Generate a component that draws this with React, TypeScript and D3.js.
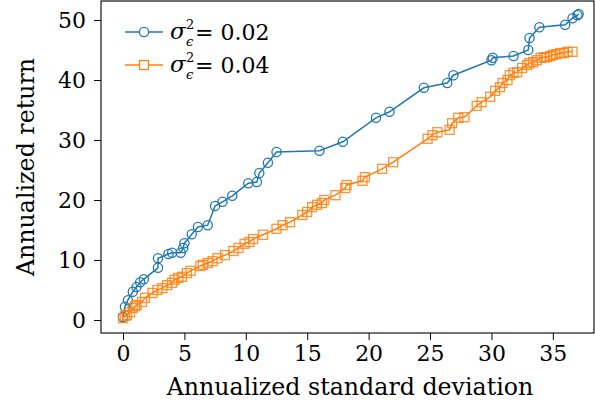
import React, { useEffect, useRef } from "react";
import * as d3 from "d3";

// sigma^2 = 0.02 series: [annualized std dev, annualized return]
const lowNoiseStd = [0.0, 0.16, 0.4, 0.8, 1.1, 1.4, 1.7, 2.85, 2.85, 3.7, 4.0, 4.7, 4.9, 5.0, 5.6, 6.1, 6.9, 7.5, 8.1, 8.9, 10.2, 10.9, 11.1, 11.8, 12.5, 16.0, 17.9, 20.6, 21.7, 24.5, 26.4, 26.9, 30.0, 30.1, 31.8, 33.0, 33.1, 33.9, 36.0, 36.6, 37.0, 37.1];
const lowNoiseRet = [0.5, 2.2, 3.3, 4.7, 5.5, 6.3, 6.8, 8.7, 10.3, 11.0, 11.2, 11.2, 12.0, 12.8, 14.3, 15.5, 15.8, 19.0, 19.7, 20.7, 22.8, 23.0, 24.5, 26.2, 28.0, 28.2, 29.7, 33.7, 34.7, 38.7, 39.5, 40.8, 43.3, 43.7, 44.0, 45.0, 47.0, 48.8, 49.2, 50.3, 50.8, 51.0];

// sigma^2 = 0.04 series
const highNoiseStd = [0.0, 0.16, 0.33, 0.57, 0.8, 1.0, 1.1, 1.55, 1.8, 2.4, 2.8, 3.2, 3.6, 4.0, 4.2, 4.5, 4.8, 5.2, 5.5, 6.3, 6.5, 6.9, 7.3, 7.7, 8.3, 9.0, 9.4, 9.9, 10.3, 10.6, 11.4, 12.5, 13.0, 13.6, 14.6, 15.0, 15.4, 15.8, 16.2, 16.4, 17.3, 18.1, 18.2, 19.5, 19.7, 21.1, 22.0, 24.8, 25.2, 25.6, 26.6, 26.8, 27.3, 27.8, 28.8, 29.2, 29.9, 30.3, 30.7, 30.9, 31.3, 31.5, 31.8, 32.1, 32.5, 32.9, 33.1, 33.4, 33.7, 34.0, 34.3, 34.5, 34.8, 35.0, 35.3, 35.6, 35.9, 36.2, 36.6];
const highNoiseRet = [0.3, 0.7, 0.8, 1.3, 2.0, 2.3, 2.5, 3.0, 3.7, 4.5, 5.0, 5.3, 5.8, 6.2, 6.7, 7.0, 7.2, 7.8, 8.2, 9.0, 9.2, 9.5, 9.8, 10.3, 10.8, 11.5, 12.0, 12.7, 13.0, 13.5, 14.2, 15.2, 15.8, 16.3, 17.5, 18.0, 18.8, 19.2, 19.5, 20.0, 20.8, 22.0, 22.5, 23.2, 23.8, 25.2, 26.3, 30.2, 30.8, 31.3, 31.7, 32.8, 33.7, 33.8, 35.7, 36.3, 37.2, 38.2, 38.8, 39.5, 40.0, 40.8, 41.2, 41.3, 42.0, 42.5, 42.8, 43.0, 43.3, 43.7, 43.8, 43.8, 44.0, 44.2, 44.3, 44.5, 44.5, 44.7, 44.7];

const xTicks = [0, 5, 10, 15, 20, 25, 30, 35];
const yTicks = [0, 10, 20, 30, 40, 50];
const legendValues = ["0.02", "0.04"];

const W = 595, H = 405;
const FONT = "DejaVu Serif";
const BLUE = "#1f77b4", ORANGE = "#ff7f0e";

export default function App() {
  const ref = useRef<SVGSVGElement>(null);

  useEffect(() => {
    const svg = d3.select(ref.current);
    svg.selectAll("*").remove();

    const x = d3.scaleLinear().domain([-1.79, 38.35]).range([101, 594]);
    const y = d3.scaleLinear().domain([-2.17, 53.17]).range([333, 1]);

    const series = [
      { std: lowNoiseStd, ret: lowNoiseRet, color: BLUE, marker: "circle" },
      { std: highNoiseStd, ret: highNoiseRet, color: ORANGE, marker: "square" },
    ];

    const line = d3.line<[number, number]>().x(d => x(d[0])).y(d => y(d[1]));

    series.forEach(s => {
      const pts: [number, number][] = s.std.map((v, i) => [v, s.ret[i]]);
      const g = svg.append("g");
      g.append("path")
        .attr("d", line(pts))
        .attr("fill", "none")
        .attr("stroke", s.color)
        .attr("stroke-width", 1.5);
      if (s.marker === "circle") {
        g.selectAll("circle").data(pts).enter().append("circle")
          .attr("cx", d => x(d[0])).attr("cy", d => y(d[1])).attr("r", 4.6)
          .attr("fill", "none").attr("stroke", s.color).attr("stroke-width", 1.3);
      } else {
        g.selectAll("rect").data(pts).enter().append("rect")
          .attr("x", d => x(d[0]) - 4.5).attr("y", d => y(d[1]) - 4.5)
          .attr("width", 9).attr("height", 9)
          .attr("fill", "none").attr("stroke", s.color).attr("stroke-width", 1.3)
          .attr("stroke-opacity", 0.85);
      }
    });

    // frame
    svg.append("rect")
      .attr("x", 101).attr("y", 1).attr("width", 493).attr("height", 332)
      .attr("fill", "none").attr("stroke", "black").attr("stroke-width", 1.1);

    const xAxis = svg.append("g").attr("transform", "translate(0,333)")
      .call(d3.axisBottom(x).tickValues(xTicks).tickSize(7).tickPadding(5).tickFormat(d3.format("d")));
    const yAxis = svg.append("g").attr("transform", "translate(101,0)")
      .call(d3.axisLeft(y).tickValues(yTicks).tickSize(7).tickPadding(8).tickFormat(d3.format("d")));
    [xAxis, yAxis].forEach(a => {
      a.select(".domain").remove();
      a.attr("font-family", null).attr("font-size", null);
      a.selectAll("text").style("font-family", FONT).style("font-size", "22px").attr("fill", "black");
      a.selectAll("line").attr("stroke", "black").attr("stroke-width", 1);
    });

    svg.append("text")
      .attr("x", 350).attr("y", 395).attr("text-anchor", "middle")
      .style("font-family", FONT).style("font-size", "23.7px")
      .text("Annualized standard deviation");
    svg.append("text")
      .attr("transform", "translate(34,167) rotate(-90)").attr("text-anchor", "middle")
      .style("font-family", FONT).style("font-size", "23.7px")
      .text("Annualized return");

    // legend
    series.forEach((s, i) => {
      const ly = 32 + i * 33;
      const lg = svg.append("g");
      lg.append("line").attr("x1", 125).attr("x2", 163).attr("y1", ly).attr("y2", ly)
        .attr("stroke", s.color).attr("stroke-width", 1.5);
      if (s.marker === "circle") {
        lg.append("circle").attr("cx", 144).attr("cy", ly).attr("r", 4.6)
          .attr("fill", "white").attr("stroke", s.color).attr("stroke-width", 1.3);
      } else {
        lg.append("rect").attr("x", 139.5).attr("y", ly - 4.5).attr("width", 9).attr("height", 9)
          .attr("fill", "white").attr("stroke", s.color).attr("stroke-width", 1.3);
      }
      lg.append("text").attr("x", 170).attr("y", ly + 7)
        .style("font-family", FONT).style("font-size", "23px").style("font-style", "italic").text("σ");
      lg.append("text").attr("x", 186).attr("y", ly - 3)
        .style("font-family", FONT).style("font-size", "13px").text("2");
      lg.append("text").attr("x", 186).attr("y", ly + 14)
        .style("font-family", FONT).style("font-size", "13px").style("font-style", "italic").text("ϵ");
      lg.append("text").attr("x", 195).attr("y", ly + 8)
        .style("font-family", FONT).style("font-size", "22px").text("= " + legendValues[i]);
    });
  }, []);

  return (
    <svg ref={ref} width={W} height={H}
      style={{ position: "absolute", left: 0, top: 0, background: "white" }} />
  );
}
